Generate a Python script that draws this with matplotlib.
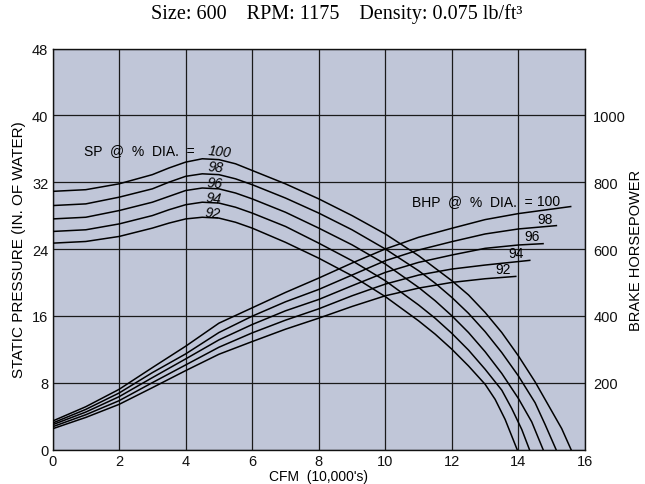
import matplotlib
matplotlib.use("Agg")
import matplotlib.pyplot as plt

# ---------------- data ----------------
diameters = ["100", "98", "96", "94", "92"]

sp_x = {
    "100": [0, 1, 2, 3, 3.5, 4, 4.5, 5, 5.5, 6, 7, 8, 9, 10, 11, 12, 12.5, 13, 13.5, 14, 14.5, 15, 15.3, 15.58],
    "98":  [0, 1, 2, 3, 3.5, 4, 4.5, 5, 5.5, 6, 7, 8, 9, 10, 11, 11.5, 12, 12.5, 13, 13.5, 14, 14.5, 14.8, 15.13],
    "96":  [0, 1, 2, 3, 3.5, 4, 4.5, 5, 5.5, 6, 7, 8, 9, 10, 11, 11.5, 12, 12.5, 13, 13.5, 14, 14.4, 14.74],
    "94":  [0, 1, 2, 3, 3.5, 4, 4.5, 5, 5.5, 6, 7, 8, 9, 10, 11, 11.5, 12, 12.5, 13, 13.5, 13.8, 14.1, 14.33],
    "92":  [0, 1, 2, 3, 3.5, 4, 4.5, 5, 5.5, 6, 7, 8, 9, 10, 11, 11.5, 12, 12.5, 13, 13.3, 13.6, 13.96],
}
sp_y = {
    "100": [30.9, 31.1, 31.8, 32.9, 33.7, 34.4, 34.8, 34.7, 34.2, 33.4, 31.8, 30.0, 28.0, 25.8, 23.2, 20.2, 18.5, 16.4, 14.0, 11.2, 8.1, 4.6, 2.5, 0],
    "98":  [29.2, 29.4, 30.2, 31.2, 32.0, 32.7, 33.0, 32.9, 32.4, 31.7, 30.1, 28.3, 26.3, 24.0, 21.4, 19.9, 18.2, 16.3, 14.1, 11.6, 8.8, 5.6, 3.0, 0],
    "96":  [27.6, 27.8, 28.6, 29.6, 30.3, 31.0, 31.3, 31.2, 30.7, 30.0, 28.4, 26.5, 24.5, 22.2, 19.4, 17.8, 16.0, 14.0, 11.7, 9.1, 6.1, 3.3, 0],
    "94":  [26.1, 26.3, 27.0, 28.0, 28.7, 29.3, 29.6, 29.5, 29.0, 28.3, 26.7, 24.7, 22.6, 20.2, 17.3, 15.7, 13.9, 11.9, 9.6, 7.1, 4.9, 2.4, 0],
    "92":  [24.7, 24.9, 25.5, 26.5, 27.1, 27.6, 27.8, 27.7, 27.2, 26.5, 24.8, 22.9, 20.8, 18.3, 15.4, 13.8, 12.0, 10.0, 7.8, 6.0, 3.6, 0],
}

bhp_x = {
    "100": [0, 1, 2, 3, 4, 5, 6, 7, 8, 9, 10, 11, 12, 13, 14, 15.57],
    "98":  [0, 1, 2, 3, 4, 5, 6, 7, 8, 9, 10, 11, 12, 13, 14, 15.14],
    "96":  [0, 1, 2, 3, 4, 5, 6, 7, 8, 9, 10, 11, 12, 13, 14, 14.74],
    "94":  [0, 1, 2, 3, 4, 5, 6, 7, 8, 9, 10, 11, 12, 13, 14.34],
    "92":  [0, 1, 2, 3, 4, 5, 6, 7, 8, 9, 10, 11, 12, 13, 13.92],
}
bhp_y = {
    "100": [85, 128, 180, 245, 309, 378, 424, 470, 513, 558, 600, 635, 662, 688, 706, 727],
    "98":  [79, 120, 169, 230, 286, 350, 399, 442, 479, 522, 565, 597, 622, 645, 660, 670],
    "96":  [74, 112, 158, 215, 271, 328, 374, 415, 449, 490, 530, 560, 582, 602, 612, 616],
    "94":  [68, 104, 146, 200, 253, 306, 349, 387, 421, 460, 495, 522, 540, 552, 566],
    "92":  [62, 96, 135, 185, 236, 285, 323, 360, 393, 428, 460, 483, 500, 511, 518],
}

x_ticks = [0, 2, 4, 6, 8, 10, 12, 14, 16]
sp_ticks = [0, 8, 16, 24, 32, 40, 48]
bhp_ticks = [200, 400, 600, 800, 1000]

title = "Size: 600    RPM: 1175    Density: 0.075 lb/ft\u00b3"

# ---------------- figure ----------------
sans = ["Liberation Sans", "DejaVu Sans"]
plt.rcParams["font.family"] = sans

fig = plt.figure(figsize=(6.45, 4.85), dpi=100)
ax = fig.add_axes([52.5 / 645, 1 - 450.5 / 485, (585 - 52.5) / 645, (450.5 - 49.5) / 485])
ax.set_facecolor("#c0c6d8")
ax.set_xlim(0, 16)
ax.set_ylim(0, 48)
ax.set_xticks(x_ticks)
ax.set_yticks(sp_ticks)
ax.tick_params(length=0, labelsize=10.5, pad=3, colors="#111111")
ax.grid(True, color="#1a1a1a", linewidth=0.9)
ax.set_axisbelow(True)
for s in ax.spines.values():
    s.set_color("#111111")
    s.set_linewidth(1.0)

for d in diameters:
    ax.plot(sp_x[d], sp_y[d], color="black", linewidth=1.1, zorder=3)

ax2 = ax.twinx()
ax2.set_ylim(0, 1200)
ax2.set_yticks(bhp_ticks)
ax2.tick_params(length=0, labelsize=10.5, pad=6, colors="#111111")
for s in ax2.spines.values():
    s.set_visible(False)
for d in diameters:
    ax2.plot(bhp_x[d], bhp_y[d], color="black", linewidth=1.1, zorder=3)

ax.set_xlabel("CFM  (10,000's)", fontsize=10, labelpad=1)
ax.set_ylabel("STATIC PRESSURE (IN. OF WATER)", fontsize=11, labelpad=4)
ax2.set_ylabel("BRAKE HORSEPOWER", fontsize=10.5, labelpad=2)

# SP curve labels
ax.text(0.95, 35.9, "SP  @  %  DIA.  =", fontsize=10, ha="left", va="center", zorder=5)
sp_lab_pos = {"100": (5.03, 35.7), "98": (4.91, 33.8), "96": (4.88, 31.9), "94": (4.85, 30.1), "92": (4.82, 28.3)}
for d in diameters:
    xx, yy = sp_lab_pos[d]
    ax.text(xx, yy, d, fontsize=10, style="italic", rotation=-6, ha="center", va="center", zorder=5)

# BHP curve labels
ax.text(10.8, 29.76, "BHP  @  %  DIA.  =", fontsize=10, ha="left", va="center", zorder=5)
bhp_lab_pos = {"100": (14.92, 29.76), "98": (14.79, 27.6), "96": (14.41, 25.5), "94": (13.93, 23.47), "92": (13.53, 21.57)}
for d in diameters:
    xx, yy = bhp_lab_pos[d]
    ax.text(xx, yy, d, fontsize=10, ha="center", va="center", zorder=5)

fig.text(0.522, 1 - 14 / 485, title, fontsize=14.5, ha="center", va="center",
         family=["Liberation Serif", "DejaVu Serif"])

fig.savefig("out.png", dpi=100)
